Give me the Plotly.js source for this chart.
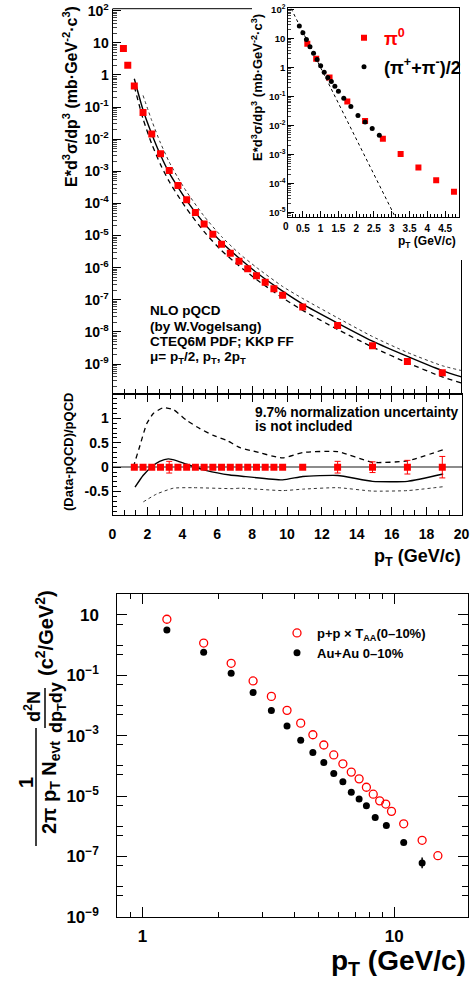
<!DOCTYPE html>
<html><head><meta charset="utf-8">
<script src="https://cdn.plot.ly/plotly-3.0.1.min.js"></script>
<style>html,body{margin:0;padding:0;background:#fff}</style>
</head><body>
<div id="chart" style="width:471px;height:983px"></div>
<script>
// ---------- data: pi0 invariant cross section (top panel + inset) ----------
const pi0_pt = [0.625,0.875,1.25,1.75,2.25,2.75,3.25,3.75,4.25,4.75,5.25,5.75,6.25,6.75,7.25,7.75,8.25,8.75,9.25,9.75,10.9,12.9,14.9,16.9,18.9];
const pi0_xs = [6.6,2.0,0.45,0.068,0.0145,3.5e-3,1.05e-3,3.6e-4,1.3e-4,5.2e-5,2.3e-5,1.1e-5,5.4e-6,2.8e-6,1.6e-6,9.3e-7,5.6e-7,3.5e-7,2.2e-7,1.4e-7,6.0e-8,1.6e-8,3.7e-9,1.2e-9,5.4e-10];

// NLO pQCD curves (top panel)
const nlo_pt = [1.25,1.75,2.25,2.75,3.25,3.75,4.25,5.25,6.25,7.25,8.25,9.75,10.9,12.9,14.9,16.9,18.9,20];
const nlo_mu1 = [0.76,0.081,0.0145,3.2e-3,8.9e-4,3.2e-4,1.23e-4,2.4e-5,6.2e-6,2.0e-6,7.1e-7,1.86e-7,7.4e-8,1.9e-8,5.2e-9,1.74e-9,6.3e-10,4.0e-10];
const nlo_mu2 = [0.44,0.043,7.1e-3,1.62e-3,4.8e-4,1.74e-4,6.8e-5,1.32e-5,3.4e-6,1.15e-6,4.3e-7,1.15e-7,4.7e-8,1.2e-8,3.4e-9,1.1e-9,4.0e-10,2.6e-10];
const nlo_half_pt = [1.75,2.25,2.75,3.25,3.75,4.25,5.25,6.25,7.25,8.25,9.75,10.9,12.9,14.9,16.9,18.9,20];
const nlo_half = [0.23,0.038,7.6e-3,1.95e-3,6.3e-4,2.3e-4,4.0e-5,9.3e-6,2.8e-6,1.02e-6,2.6e-7,1.1e-7,2.75e-8,7.2e-9,2.3e-9,8.9e-10,6.3e-10];

// ratio panel
const ratio_pt = [1.25,1.75,2.25,2.75,3.25,3.75,4.25,4.75,5.25,5.75,6.25,6.75,7.25,7.75,8.25,8.75,9.25,9.75,10.9,12.9,14.9,16.9,18.9];
const ratio_val = [0,0,0,0,0,0,0,0,0,0,0,0,0,0,0,0,0,0,0,0,0,0,0];
const ratio_err = [0.02,0.02,0.02,0.02,0.12,0.02,0.02,0.02,0.02,0.02,0.02,0.02,0.02,0.02,0.02,0.02,0.02,0.02,0.03,0.12,0.11,0.14,0.22];
const rdash_pt = [1.19,1.58,1.96,2.34,2.91,3.49,4.25,5.01,5.78,6.54,7.31,8.07,9.75,10.9,12.9,14.9,16.9,18.95];
const rdash = [0,0.45,0.89,1.10,1.22,1.18,0.96,0.79,0.65,0.55,0.40,0.33,0.19,0.30,0.32,0.10,0.13,0.36];
const rsolid_pt = [1.29,1.75,2.25,2.7,3.2,3.7,4.25,5.4,6.73,7.3,9.75,10.9,12.9,14.9,16.9,18.95];
const rsolid = [-0.41,-0.17,0.01,0.12,0.17,0.13,0.06,-0.07,-0.16,-0.18,-0.26,-0.19,-0.17,-0.29,-0.29,-0.14];
const rdot_pt = [1.77,2.53,3.49,4.63,6.92,7.3,9.75,10.9,12.9,14.9,16.9,18.95];
const rdot = [-0.71,-0.55,-0.43,-0.42,-0.44,-0.43,-0.48,-0.45,-0.42,-0.49,-0.48,-0.40];

// inset: charged pions and exponential line
const pich_pt = [0.4,0.5,0.6,0.7,0.8,0.9,1.0,1.1,1.2,1.3,1.4,1.5,1.65,1.85,2.05,2.25,2.45,2.65];
const pich_xs = [27,15.8,9.3,5.2,3.1,1.9,1.15,0.69,0.45,0.33,0.224,0.151,0.087,0.045,0.0224,0.0132,7.9e-3,4.6e-3];
const expo_pt = [0.17,3.07];
const expo_xs = [107,8.3e-6];

// bottom panel
const pp_pt = [1.25,1.75,2.25,2.75,3.25,3.75,4.25,4.75,5.25,5.75,6.25,6.75,7.25,7.75,8.25,8.75,9.25,9.75,10.9,12.9,14.9];
const pp_y = [7.2,1.17,0.25,0.065,0.020,6.9e-3,2.6e-3,1.07e-3,4.9e-4,2.3e-4,1.17e-4,6.2e-5,3.7e-5,1.95e-5,1.15e-5,6.9e-6,5.4e-6,3.1e-6,1.2e-6,3.4e-7,1.05e-7];
const auau_pt = [1.25,1.75,2.25,2.75,3.25,3.75,4.25,4.75,5.25,5.75,6.25,6.75,7.25,7.75,8.4,9.3,10.9,12.9];
const auau_y = [3.2,0.58,0.117,0.027,6.8e-3,2.1e-3,7.1e-4,2.75e-4,1.29e-4,5.6e-5,2.95e-5,1.32e-5,7.9e-6,4.8e-6,1.95e-6,1.05e-6,2.9e-7,6.0e-8];
const auau_eup = [0,0,0,0,0,0,0,0,0,0,0,0,0,0,0,0,0,3.1e-8];
const auau_edn = [0,0,0,0,0,0,0,0,0,0,0,0,0,0,0,0,0,2.0e-8];

// tick labels
const main_tv = [1e2,1e1,1,1e-1,1e-2,1e-3,1e-4,1e-5,1e-6,1e-7,1e-8,1e-9];
const main_tt = ['10<sup>2</sup>','10','1','10<sup>-1</sup>','10<sup>-2</sup>','10<sup>-3</sup>','10<sup>-4</sup>','10<sup>-5</sup>','10<sup>-6</sup>','10<sup>-7</sup>','10<sup>-8</sup>','10<sup>-9</sup>'];
const ins_tv = [1e2,1e1,1,1e-1,1e-2,1e-3,1e-4,1e-5];
const ins_tt = ['10<sup>2</sup>','10','1','10<sup>-1</sup>','10<sup>-2</sup>','10<sup>-3</sup>','10<sup>-4</sup>','10<sup>-5</sup>'];
const ratio_tv = [-0.5,0,0.5,1];
const ratio_tt = ['-0.5','0','0.5','1'];
const bot_tv = [10,1e-1,1e-3,1e-5,1e-7,1e-9];
const bot_tt = ['10','10<sup>\u22121</sup>','10<sup>\u22123</sup>','10<sup>\u22125</sup>','10<sup>\u22127</sup>','10<sup>\u22129</sup>'];
const botx_tv = [1,10];
const botx_tt = ['1','10'];

// ---------- geometry helpers ----------
const W = 471, H = 983;
const X = p => p / W;
const Y = p => 1 - p / H;
const FONT = 'Liberation Sans, Arial, Helvetica, sans-serif';

function logMinor(lo, hi, mults) {
  const out = [];
  for (let k = lo; k <= hi; k++) for (const m of mults) out.push(m * Math.pow(10, k));
  return out;
}
const minorAll = logMinor(-11, 2, [2,3,4,5,6,7,8,9]);
const botDecadeMinor = [1, 1e-2, 1e-4, 1e-6, 1e-8];
const minorHalf = logMinor(-10, 1, [5]);

const RED = '#ff0000';

const traces = [
  // top panel
  {x: nlo_half_pt, y: nlo_half, xaxis:'x', yaxis:'y', mode:'lines', line:{color:'#333', width:1, dash:'dot', shape:'spline', smoothing:0.6}, showlegend:false},
  {x: nlo_pt, y: nlo_mu2, xaxis:'x', yaxis:'y', mode:'lines', line:{color:'black', width:1.3, dash:'5px,4px', shape:'spline', smoothing:0.6}, showlegend:false},
  {x: nlo_pt, y: nlo_mu1, xaxis:'x', yaxis:'y', mode:'lines', line:{color:'black', width:1.4, shape:'spline', smoothing:0.6}, showlegend:false},
  {x: pi0_pt, y: pi0_xs, xaxis:'x', yaxis:'y', mode:'markers', marker:{symbol:'square', size:7, color:RED}, showlegend:false},
  // ratio panel
  {x: rdot_pt, y: rdot, xaxis:'x2', yaxis:'y2', mode:'lines', line:{color:'#333', width:1, dash:'dot', shape:'spline', smoothing:0.5}, showlegend:false},
  {x: rdash_pt, y: rdash, xaxis:'x2', yaxis:'y2', mode:'lines', line:{color:'black', width:1.3, dash:'5px,4px', shape:'spline', smoothing:0.5}, showlegend:false},
  {x: rsolid_pt, y: rsolid, xaxis:'x2', yaxis:'y2', mode:'lines', line:{color:'black', width:1.4, shape:'spline', smoothing:0.5}, showlegend:false},
  {x: ratio_pt, y: ratio_val, xaxis:'x2', yaxis:'y2', mode:'markers', marker:{symbol:'square', size:7, color:RED},
   error_y:{type:'data', array: ratio_err, visible:true, color:RED, thickness:1, width:3}, showlegend:false},
  // inset
  {x: expo_pt, y: expo_xs, xaxis:'x3', yaxis:'y3', mode:'lines', line:{color:'black', width:1, dash:'dot'}, showlegend:false},
  {x: pi0_pt, y: pi0_xs, xaxis:'x3', yaxis:'y3', mode:'markers', marker:{symbol:'square', size:6, color:RED}, name:'\u03c0<sup>0</sup>', legend:'legend', showlegend:true},
  {x: pich_pt, y: pich_xs, xaxis:'x3', yaxis:'y3', mode:'markers', marker:{symbol:'circle', size:5, color:'black'}, name:'(\u03c0<sup>+</sup>+\u03c0<sup>-</sup>)/2', legend:'legend2', showlegend:true},
  // bottom panel
  {x: pp_pt, y: pp_y, xaxis:'x4', yaxis:'y4', mode:'markers', marker:{symbol:'circle-open', size:8, color:RED, line:{width:1.3, color:RED}}, name:'p+p \u00d7 T<sub>AA</sub>(0\u201310%)', legend:'legend3', showlegend:true},
  {x: auau_pt, y: auau_y, xaxis:'x4', yaxis:'y4', mode:'markers', marker:{symbol:'circle', size:7, color:'black'},
   error_y:{type:'data', symmetric:false, array: auau_eup, arrayminus: auau_edn, visible:true, color:'black', thickness:1.5, width:0},
   name:'Au+Au 0\u201310%', legend:'legend3', showlegend:true}
];

const axBase = {showgrid:false, zeroline:false, showline:true, linecolor:'black', linewidth:1, ticks:'inside', tickcolor:'black', tickwidth:1};
const bold = (s, c) => ({family:FONT, size:s, color:c || 'black', weight:'bold'});

function ann(text, x, y, size, opt) {
  return Object.assign({text, x:X(x), y:Y(y), xref:'paper', yref:'paper', showarrow:false,
    xanchor:'center', yanchor:'middle', font:bold(size)}, opt || {});
}

const layout = {
  width: W, height: H,
  margin: {l:0, r:0, t:0, b:0, pad:0},
  paper_bgcolor:'white', plot_bgcolor:'white',
  font: {family: FONT, color:'black', weight:'bold'},
  showlegend: true,
  xaxis: Object.assign({}, axBase, {domain:[X(112.5), X(461.5)], anchor:'y', range:[0,20], tick0:0, dtick:2, ticklen:8,
    minor:{ticks:'inside', ticklen:5, tick0:0, dtick:2/3, tickcolor:'black'}, showticklabels:false}),
  yaxis: Object.assign({}, axBase, {domain:[Y(394), Y(8.7)], anchor:'x', type:'log', range:[-9.93, 2.06],
    tickmode:'array', tickvals: main_tv, ticktext: main_tt, ticklen:8, tickfont: bold(14),
    minor:{ticks:'inside', ticklen:4, tickmode:'array', tickvals: minorAll, tickcolor:'#444'}}),
  xaxis2: Object.assign({}, axBase, {domain:[X(112.5), X(461.5)], anchor:'y2', range:[0,20], tick0:0, dtick:2, ticklen:8, mirror:'ticks',
    minor:{ticks:'inside', ticklen:5, tick0:0, dtick:2/3, tickcolor:'black'}, tickfont: bold(14), ticklabelstandoff:6}),
  yaxis2: Object.assign({}, axBase, {domain:[Y(515), Y(394)], anchor:'x2', range:[-0.98, 1.5], mirror:true,
    tickmode:'array', tickvals: ratio_tv, ticktext: ratio_tt, ticklen:8, tickfont: bold(14),
    zeroline:true, zerolinecolor:'#8c8c8c', zerolinewidth:1.6,
    minor:{ticks:'inside', ticklen:4, tickmode:'linear', tick0:0, dtick:0.1, tickcolor:'black'}}),
  xaxis3: Object.assign({}, axBase, {domain:[X(288.3), X(459.3)], anchor:'y3', range:[0.09, 4.9], tick0:0, dtick:0.5, ticklen:6, mirror:true,
    minor:{ticks:'inside', ticklen:3, tick0:0, dtick:0.1, tickcolor:'black'}, tickfont: bold(10), ticklabelstandoff:2}),
  yaxis3: Object.assign({}, axBase, {domain:[Y(216.7), Y(8.3)], anchor:'x3', type:'log', range:[-5.14, 2.04], mirror:true,
    tickmode:'array', tickvals: ins_tv, ticktext: ins_tt, ticklen:6, tickfont: bold(9.5),
    minor:{ticks:'inside', ticklen:3, tickmode:'array', tickvals: minorAll, tickcolor:'#444'}}),
  xaxis4: Object.assign({}, axBase, {domain:[X(117.3), X(468.3)], anchor:'y4', type:'log', range:[-0.1, 1.294], mirror:'allticks',
    tickmode:'array', tickvals: botx_tv, ticktext: botx_tt, ticklen:10, tickfont: bold(17), ticklabelstandoff:4,
    minor:{ticks:'inside', ticklen:5, tickmode:'array', tickvals: logMinor(-1, 1, [2,3,4,5,6,7,8,9]), tickcolor:'black'}}),
  yaxis4: Object.assign({}, axBase, {domain:[Y(916.7), Y(594.3)], anchor:'x4', type:'log', range:[-9, 1.685], mirror:'allticks',
    tickmode:'array', tickvals: bot_tv, ticktext: bot_tt, ticklen:10, tickfont: bold(17), ticklabelstandoff:14,
    minor:{ticks:'inside', ticklen:6, tickmode:'array', tickvals: botDecadeMinor.concat(minorHalf), tickcolor:'black'}}),
  legend: {x:X(344), y:Y(38), xanchor:'left', yanchor:'middle', bgcolor:'rgba(0,0,0,0)', borderwidth:0, font:bold(18, RED)},
  legend2: {x:X(344), y:Y(67), xanchor:'left', yanchor:'middle', bgcolor:'rgba(0,0,0,0)', borderwidth:0, font:bold(18)},
  legend3: {x:X(277), y:Y(643), xanchor:'left', yanchor:'middle', bgcolor:'rgba(0,0,0,0)', borderwidth:0, font:bold(13), traceorder:'normal'},
  shapes: [
    {type:'line', xref:'paper', yref:'paper', x0:X(112.5), x1:X(252), y0:Y(8.7), y1:Y(8.7), line:{color:'black', width:1}},
    {type:'line', xref:'paper', yref:'paper', x0:X(461.5), x1:X(461.5), y0:Y(260), y1:Y(394), line:{color:'black', width:1}},
    {type:'line', xref:'paper', yref:'paper', x0:X(36), x1:X(36), y0:Y(728), y1:Y(846), line:{color:'black', width:1.5}},
    {type:'line', xref:'paper', yref:'paper', x0:X(45), x1:X(45), y0:Y(688), y1:Y(728), line:{color:'black', width:1.5}}
  ],
  annotations: [
    ann('E*d<sup>3</sup>\u03c3/dp<sup>3</sup> (mb\u00b7GeV<sup>-2</sup>\u00b7c<sup>3</sup>)', 70, 97, 16, {textangle:-90}),
    ann('(Data-pQCD)/pQCD', 68, 452, 13, {textangle:-90}),
    ann('p<sub>T</sub> (GeV/c)', 463, 557, 18, {xanchor:'right'}),
    ann('NLO pQCD', 148, 310.5, 13.5, {xanchor:'left'}),
    ann('(by W.Vogelsang)', 148, 326.5, 13.5, {xanchor:'left'}),
    ann('CTEQ6M PDF; KKP FF', 148, 341.5, 13.5, {xanchor:'left'}),
    ann('\u03bc= p<sub>T</sub>/2, p<sub>T</sub>, 2p<sub>T</sub>', 148, 358, 13.5, {xanchor:'left'}),
    ann('9.7% normalization uncertainty', 252.7, 412.8, 13.8, {xanchor:'left'}),
    ann('is not included', 252.7, 426.5, 13.8, {xanchor:'left'}),
    // inset titles
    ann('E*d<sup>3</sup>\u03c3/dp<sup>3</sup> (mb\u00b7GeV<sup>-2</sup>\u00b7c<sup>3</sup>)', 257, 88, 13, {textangle:-90}),
    ann('p<sub>T</sub> (GeV/c)', 458, 242, 12, {xanchor:'right'}),
    ann('0', 285.5, 226, 10),
    // bottom panel titles
    ann('p<sub>T</sub> (GeV/c)', 468, 982, 28, {xanchor:'right', yanchor:'bottom'}),
    ann('(c<sup>2</sup>/GeV<sup>2</sup>)', 44, 633, 20, {textangle:-90}),
    ann('d<sup>2</sup>N', 32, 707, 18, {textangle:-90}),
    ann('dp<sub>T</sub>dy', 57, 708, 18, {textangle:-90}),
    ann('1', 26, 783, 20, {textangle:-90}),
    ann('2\u03c0 p<sub>T</sub> N<sub>evt</sub>', 50, 788, 20, {textangle:-90})
  ]
};

Plotly.newPlot('chart', traces, layout, {staticPlot:true, displayModeBar:false});
</script>
</body></html>
